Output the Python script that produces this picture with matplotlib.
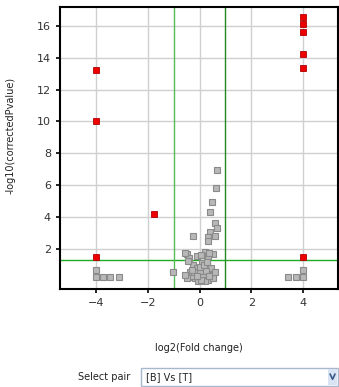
import matplotlib
matplotlib.use('Agg')
import matplotlib.pyplot as plt
from matplotlib.patches import Rectangle
from matplotlib.lines import Line2D

# significant entities (red)
red_x = [-4, -4, -4, -1.76, 4, 4, 4, 4, 4, 4]
red_y = [13.22, 10.03, 1.48, 4.2, 16.6, 16.13, 15.6, 14.25, 13.35, 1.46]

# non significant entities (grey)
gray_x = [-4, -4, -3.75, -3.45, -3.1,
          4, 4, 3.74, 3.42,
          -1.03,
          0.66, 0.62, 0.49, 0.41, 0.59, 0.69, 0.40, 0.59, 0.33, 0.31, -0.25,
          0.2, -0.5, -0.12, 0.5, 0.33, -0.4, 0.05, 0.38, -0.57,
          -0.25, 0.27, -0.12, -0.37, 0.01, 0.40, 0.53, -0.44, -0.18, 0.14,
          -0.05, 0.33, -0.31, 0.20, -0.5, 0.53, -0.55, 0.45, 0.1, -0.2,
          0.25, 0.0, 0.35, -0.3, 0.15, 0.6, -0.45, 0.05, -0.1, 0.3]
gray_y = [0.66, 0.24, 0.24, 0.24, 0.24,
          0.66, 0.24, 0.24, 0.24,
          0.53,
          6.93, 5.8, 4.94, 4.27, 3.6, 3.28, 3.07, 2.8, 2.72, 2.5, 2.82,
          1.81, 1.65, 1.54, 1.65, 1.54, 1.43, 1.6, 1.7, 1.71,
          0.97, 0.97, 0.77, 0.55, 0.45, 0.55, 0.35, 0.18, 0.14, 0.24,
          -0.07, 0.03, 0.28, -0.03, 0.14, 0.14, 0.35, 0.8, 1.1, 0.5,
          0.6, 0.85, 0.3, 0.65, 0.95, 0.55, 1.2, 0.0, 0.3, 1.15]

fc_cut = [-1, 1]
p_cut = 1.3

xticks = [-4, -2, 0, 2, 4]
yticks = [2, 4, 6, 8, 10, 12, 14, 16]

fig = plt.figure(figsize=(3.39, 3.87), dpi=100)
ax = fig.add_axes([0.177, 0.253, 0.82, 0.729])

ax.set_xticks(xticks)
ax.set_yticks(yticks)
ax.grid(True, color='#d0d0d0', linewidth=1)
ax.set_axisbelow(True)

ax.plot(gray_x, gray_y, 's', markersize=5, markerfacecolor='#b8b8b8',
        markeredgecolor='#8a8a8a', markeredgewidth=0.8, linestyle='none', zorder=3)
ax.plot(red_x, red_y, 's', markersize=4.7, markerfacecolor='#ee0000',
        markeredgecolor='#b00000', markeredgewidth=0.6, linestyle='none', zorder=4)

ax.axhline(p_cut, color='#22aa22', linewidth=1, zorder=2)
ax.axvline(fc_cut[0], color='#55bb55', linewidth=1, zorder=2)
ax.axvline(fc_cut[1], color='#228822', linewidth=1, zorder=2)

ax.set_xlim(-5.4, 5.35)
ax.set_ylim(-0.55, 17.2)

for s in ax.spines.values():
    s.set_color('black')
    s.set_linewidth(1.5)
ax.tick_params(labelsize=8, colors='#333333', length=3, width=1.2)
ax.tick_params(axis='both', color='black')

fig.text(0.03, 0.65, '-log10(correctedPvalue)', rotation=90, ha='center', va='center',
         fontsize=7, color='#222222')
fig.text(0.588, 0.1, 'log2(Fold change)', ha='center', va='center',
         fontsize=7, color='#222222')

# "Select pair" control
fig.text(0.23, 0.026, 'Select pair', ha='left', va='center', fontsize=7, color='#222222')
fig.add_artist(Rectangle((0.416, 0.003), 0.58, 0.047, transform=fig.transFigure,
                         facecolor='white', edgecolor='#a8b8cc', linewidth=1))
fig.add_artist(Rectangle((0.968, 0.006), 0.027, 0.041, transform=fig.transFigure,
                         facecolor='#d8e4f4', edgecolor='none'))
fig.add_artist(Line2D([0.974, 0.981, 0.988], [0.033, 0.02, 0.033], transform=fig.transFigure,
                      color='#3a5a8a', linewidth=1.2))
fig.text(0.43, 0.026, '[B] Vs [T]', ha='left', va='center', fontsize=7, color='#222222')

plt.savefig('out.png', dpi=100)
